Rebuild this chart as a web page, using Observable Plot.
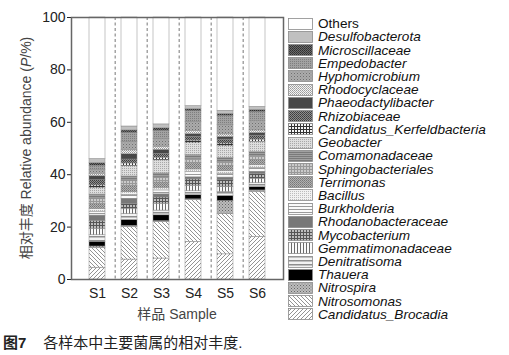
<!DOCTYPE html>
<html><head><meta charset="utf-8">
<script src="https://cdn.jsdelivr.net/npm/d3@7"></script>
<script src="https://cdn.jsdelivr.net/npm/@observablehq/plot@0.6"></script>
<style>
body{margin:0;background:#fff;font-family:"Liberation Sans",Arial,"Noto Sans CJK SC",sans-serif;}
#wrap{position:relative;width:509px;height:355px;overflow:hidden;background:#fff;}
#chart{position:absolute;left:0;top:0;}
#legend{position:absolute;left:288px;top:17px;}
.row{display:flex;align-items:center;height:13.23px;}
.row svg{flex:none;display:block;}
.row span{margin-left:5px;font-size:13.6px;font-style:italic;color:#111;line-height:13px;white-space:nowrap;}
#caption{position:absolute;left:3px;top:331px;font-family:"Liberation Sans","Noto Sans CJK SC",sans-serif;font-size:15px;color:#222;white-space:nowrap;}
#caption .t{margin-left:17px;}
#defs{position:absolute;width:0;height:0;}
</style></head>
<body>
<svg id="defs" width="0" height="0"><defs>
<pattern id="pMicro" width="2" height="2" patternUnits="userSpaceOnUse"><rect width="2" height="2" fill="#6a6a6a"/><rect width="1" height="1" fill="#2e2e2e"/><rect x="1" y="1" width="1" height="1" fill="#3a3a3a"/></pattern>
<pattern id="pEmped" width="2" height="2" patternUnits="userSpaceOnUse"><rect width="2" height="2" fill="#a2a2a2"/><rect width="1" height="1" fill="#7e7e7e"/></pattern>
<pattern id="pHypho" width="3" height="3" patternUnits="userSpaceOnUse"><rect width="3" height="3" fill="#ababab"/><rect width="1" height="1" fill="#707070"/><rect x="1.5" y="1.5" width="1" height="1" fill="#8a8a8a"/></pattern>
<pattern id="pRhodo" width="2" height="2" patternUnits="userSpaceOnUse"><rect width="2" height="2" fill="#f4f4f4"/><rect width="1" height="1" fill="#9a9a9a"/><rect x="1" y="1" width="1" height="1" fill="#b0b0b0"/></pattern>
<pattern id="pRhizo" width="2" height="2" patternUnits="userSpaceOnUse"><rect width="2" height="2" fill="#8c8c8c"/><rect width="1" height="1" fill="#3c3c3c"/><rect x="1" y="1" width="1" height="1" fill="#4a4a4a"/></pattern>
<pattern id="pKerf" width="3" height="3" patternUnits="userSpaceOnUse"><rect width="3" height="3" fill="#f6f6f6"/><rect width="3" height="1" fill="#333"/><rect width="1" height="3" fill="#333"/></pattern>
<pattern id="pGeo" width="2" height="2" patternUnits="userSpaceOnUse"><rect width="2" height="2" fill="#dedede"/><rect width="1" height="1" fill="#a8a8a8"/></pattern>
<pattern id="pComa" width="3" height="2" patternUnits="userSpaceOnUse"><rect width="3" height="2" fill="#a0a0a0"/><rect width="3" height="1" fill="#7a7a7a"/></pattern>
<pattern id="pSphi" width="3" height="3" patternUnits="userSpaceOnUse"><rect width="3" height="3" fill="#cacaca"/><rect width="3" height="1" fill="#999"/><rect width="1" height="3" fill="#999"/></pattern>
<pattern id="pTerri" width="2" height="2" patternUnits="userSpaceOnUse"><rect width="2" height="2" fill="#b0b0b0"/><rect width="1" height="1" fill="#777"/><rect x="1" y="1" width="1" height="1" fill="#888"/></pattern>
<pattern id="pBaci" width="2" height="2" patternUnits="userSpaceOnUse"><rect width="2" height="2" fill="#f2f2f2"/><rect width="1" height="1" fill="#bdbdbd"/></pattern>
<pattern id="pBurk" width="3" height="3" patternUnits="userSpaceOnUse"><rect width="3" height="3" fill="#fafafa"/><rect width="3" height="1" fill="#9a9a9a"/></pattern>
<pattern id="pMyco" width="3" height="3" patternUnits="userSpaceOnUse"><rect width="3" height="3" fill="#bdbdbd"/><rect width="3" height="1" fill="#555"/><rect width="1" height="3" fill="#555"/></pattern>
<pattern id="pGemma" width="3" height="3" patternUnits="userSpaceOnUse"><rect width="3" height="3" fill="#fafafa"/><rect width="1" height="3" fill="#6a6a6a"/></pattern>
<pattern id="pDeni" width="4" height="4" patternUnits="userSpaceOnUse"><rect width="4" height="4" fill="#f2f2f2"/><rect width="4" height="1.5" fill="#8e8e8e"/></pattern>
<pattern id="pNitrospira" width="3" height="3" patternUnits="userSpaceOnUse"><rect width="3" height="3" fill="#bcbcbc"/><rect width="1" height="1" fill="#666"/><rect x="1.5" y="1.5" width="1" height="1" fill="#777"/></pattern>
<pattern id="pNitroso" width="4" height="4" patternUnits="userSpaceOnUse"><rect width="4" height="4" fill="#fff"/><path d="M0,0L4,4M-1,3L1,5M3,-1L5,1" stroke="#777" stroke-width="0.8"/></pattern>
<pattern id="pBroca" width="4" height="4" patternUnits="userSpaceOnUse"><rect width="4" height="4" fill="#fff"/><path d="M0,4L4,0M-1,1L1,-1M3,5L5,3" stroke="#777" stroke-width="0.8"/></pattern>
</defs></svg>
<div id="wrap">
<div id="chart"></div>
<div id="legend"></div>
<div id="caption"><b>图7</b><span class="t">各样本中主要菌属的相对丰度.</span></div>
</div>
<script>
const samples = ["S1","S2","S3","S4","S5","S6"];
// stacking order, bottom to top
const taxa = ["Candidatus_Brocadia","Nitrosomonas","Nitrospira","Thauera","Denitratisoma","Gemmatimonadaceae","Mycobacterium","Rhodanobacteraceae","Burkholderia","Bacillus","Terrimonas","Sphingobacteriales","Comamonadaceae","Geobacter","Candidatus_Kerfeldbacteria","Rhizobiaceae","Phaeodactylibacter","Rhodocyclaceae","Hyphomicrobium","Empedobacter","Microscillaceae","Desulfobacterota","Others"];
const S1 = [4.5,7.5,0.6,1.8,2.5,2.5,3.0,2.0,1.5,1.0,2.0,2.0,1.5,2.5,1.0,2.0,1.5,1.0,1.5,1.5,1.0,1.6,54.0];
const S2 = [7.6,12.5,0.4,2.2,2.3,1.8,2.0,2.0,1.5,1.0,2.5,2.0,1.5,4.0,1.0,1.5,2.0,1.5,3.3,3.3,1.0,1.5,41.6];
const S3 = [8.0,14.0,0.3,2.2,1.8,2.5,2.5,1.2,1.5,1.0,2.0,2.0,1.5,5.0,1.0,1.5,1.5,1.2,3.0,3.0,1.0,1.5,40.8];
const S4 = [14.4,15.9,0.3,1.6,1.5,2.0,2.5,0.8,2.0,1.0,2.5,1.5,1.5,4.5,1.0,1.5,1.0,1.2,3.5,4.0,0.8,1.2,33.8];
const S5 = [9.6,15.4,5.0,1.9,1.5,2.0,2.5,1.0,1.5,1.0,2.0,1.5,1.5,4.5,1.0,1.5,1.0,1.0,3.5,3.5,0.8,1.2,35.6];
const S6 = [16.3,17.2,0.5,1.3,1.5,1.5,2.0,0.8,1.5,1.0,2.0,1.5,1.5,4.0,0.8,1.5,1.0,1.0,3.5,3.5,0.8,1.2,34.1];
const yTicks = [0,20,40,60,80,100];
const fills = ["url(#pBroca)","url(#pNitroso)","url(#pNitrospira)","#000","url(#pDeni)","url(#pGemma)","url(#pMyco)","#787878","url(#pBurk)","url(#pBaci)","url(#pTerri)","url(#pSphi)","url(#pComa)","url(#pGeo)","url(#pKerf)","url(#pRhizo)","#474747","url(#pRhodo)","url(#pHypho)","url(#pEmped)","url(#pMicro)","#c0c0c0","#fff"];

const series = [S1,S2,S3,S4,S5,S6];
const data = [];
samples.forEach((s,i)=>taxa.forEach((t,j)=>data.push({sample:s,taxon:t,value:series[i][j]})));

const W=290,H=325,ML=71,MR=7,MT=17,MB=46;
const half = (W-ML-MR)/samples.length/2;

const chart = Plot.plot({
  width:W,height:H,marginLeft:ML,marginRight:MR,marginTop:MT,marginBottom:MB,
  style:{fontSize:"14px",fontFamily:"'Liberation Sans',Arial,sans-serif",color:"#222",background:"#fff",overflow:"visible"},
  x:{domain:samples,padding:0.49,label:null,tickSize:0,tickPadding:9},
  y:{domain:[0,100],ticks:yTicks,tickSize:4,tickPadding:2,label:null},
  color:{type:"ordinal",domain:taxa,range:fills},
  marks:[
    Plot.ruleX(samples.slice(0,-1),{x:d=>d,dx:half,stroke:"#777",strokeWidth:1,strokeDasharray:"3,2.5"}),
    Plot.barY(data,{x:"sample",y:"value",fill:"taxon",order:taxa,stroke:"#8a8a8a",strokeWidth:0.5}),
    Plot.frame({stroke:"#666",strokeWidth:1.5})
  ]
});
document.getElementById("chart").appendChild(chart);

const svg = d3.select(chart);
const yl = svg.append("text")
  .attr("transform",`translate(31,${(MT+H-MB)/2}) rotate(-90)`)
  .attr("text-anchor","middle").attr("fill","#444").attr("font-size",14)
  .attr("font-family","'Liberation Sans','Noto Sans CJK SC',sans-serif");
yl.append("tspan").text("相对丰度 Relative abundance (");
yl.append("tspan").attr("font-style","italic").text("P");
yl.append("tspan").text("/%)");
svg.append("text")
  .attr("x",(ML+W-MR)/2).attr("y",319)
  .attr("text-anchor","middle").attr("fill","#444").attr("font-size",14)
  .attr("font-family","'Liberation Sans','Noto Sans CJK SC',sans-serif")
  .text("样品 Sample");

const legend = d3.select("#legend");
taxa.slice().reverse().forEach((t)=>{
  const j = taxa.indexOf(t);
  const row = legend.append("div").attr("class","row");
  const s = row.append("svg").attr("width",25).attr("height",12);
  s.append("rect").attr("x",0.5).attr("y",0.5).attr("width",24).attr("height",11)
    .attr("fill",fills[j]).attr("stroke","#8a8a8a").attr("stroke-width",0.8);
  const sp = row.append("span").text(t);
  if(t==="Others") sp.style("font-style","normal");
});
</script>
</body></html>
